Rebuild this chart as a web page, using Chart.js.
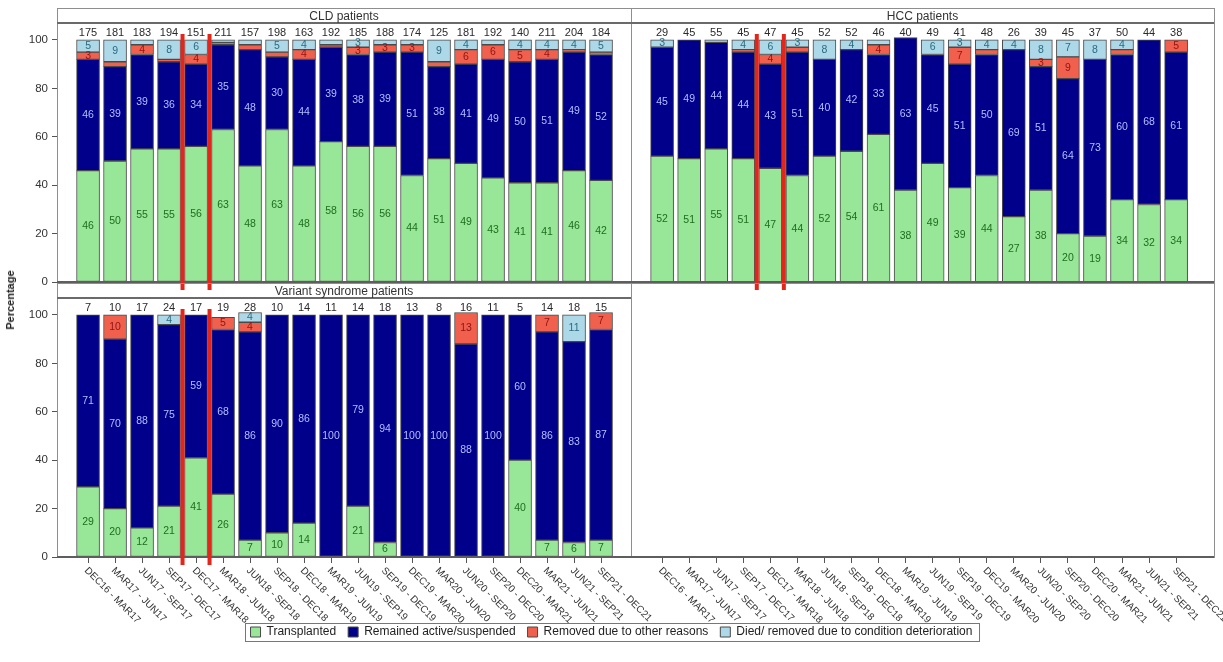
<!DOCTYPE html>
<html>
<head>
<meta charset="utf-8">
<script src="https://cdn.jsdelivr.net/npm/chart.js@4.4.1/dist/chart.umd.min.js"></script>
<style>
  html, body { margin: 0; padding: 0; background: #ffffff; }
  #wrap { position: relative; width: 1223px; height: 662px; overflow: hidden; }
  #wrap canvas { position: absolute; left: 0; top: 0; }
  #ytitle {
    position: absolute; left: 10px; top: 300px;
    transform: translate(-50%, -50%) rotate(-90deg);
    font: bold 11px "Liberation Sans", Arial, sans-serif; color: #222; white-space: nowrap;
  }
</style>
</head>
<body>
<div id="wrap">
  <canvas id="cld" width="1223" height="662"></canvas>
  <canvas id="hcc" width="1223" height="662"></canvas>
  <canvas id="vsp" width="1223" height="662"></canvas>
  <canvas id="blank" width="1223" height="662"></canvas>
  <canvas id="legend" width="1223" height="662"></canvas>
  <div id="ytitle">Percentage</div>
</div>
<script>
// Quarterly periods on the x axis
const categories = [
  'DEC16 - MAR17', 'MAR17 - JUN17', 'JUN17 - SEP17', 'SEP17 - DEC17', 'DEC17 - MAR18',
  'MAR18 - JUN18', 'JUN18 - SEP18', 'SEP18 - DEC18', 'DEC18 - MAR19', 'MAR19 - JUN19',
  'JUN19 - SEP19', 'SEP19 - DEC19', 'DEC19 - MAR20', 'MAR20 - JUN20', 'JUN20 - SEP20',
  'SEP20 - DEC20', 'DEC20 - MAR21', 'MAR21 - JUN21', 'JUN21 - SEP21', 'SEP21 - DEC21'
];
const outcomeNames = [
  'Transplanted', 'Remained active/suspended', 'Removed due to other reasons',
  'Died/ removed due to condition deterioration'
];
const yTickValues = [0, 20, 40, 60, 80, 100];
// boundaries between periods marked with red lines
const periodBreaks = [3.5, 4.5];

// CLD patients (% of registrations in each period)
const cldTotals       = [175, 181, 183, 194, 151, 211, 157, 198, 163, 192, 185, 188, 174, 125, 181, 192, 140, 211, 204, 184];
const cldTransplanted = [46, 50, 55, 55, 56, 63, 48, 63, 48, 58, 56, 56, 44, 51, 49, 43, 41, 41, 46, 42];
const cldActive       = [46, 39, 39, 36, 34, 35, 48, 30, 44, 39, 38, 39, 51, 38, 41, 49, 50, 51, 49, 52];
const cldRemoved      = [3, 2, 4, 1, 4, 1, 2, 2, 4, 1, 3, 3, 3, 2, 6, 6, 5, 4, 1, 1];
const cldDied         = [5, 9, 2, 8, 6, 1, 2, 5, 4, 2, 3, 2, 2, 9, 4, 2, 4, 4, 4, 5];

// HCC patients
const hccTotals       = [29, 45, 55, 45, 47, 45, 52, 52, 46, 40, 49, 41, 48, 26, 39, 45, 37, 50, 44, 38];
const hccTransplanted = [52, 51, 55, 51, 47, 44, 52, 54, 61, 38, 49, 39, 44, 27, 38, 20, 19, 34, 32, 34];
const hccActive       = [45, 49, 44, 44, 43, 51, 40, 42, 33, 63, 45, 51, 50, 69, 51, 64, 73, 60, 68, 61];
const hccRemoved      = [0, 0, 0, 1, 4, 2, 0, 0, 4, 0, 0, 7, 2, 0, 3, 9, 0, 2, 0, 5];
const hccDied         = [3, 0, 1, 4, 6, 3, 8, 4, 2, 0, 6, 3, 4, 4, 8, 7, 8, 4, 0, 0];

// Variant syndrome patients
const vspTotals       = [7, 10, 17, 24, 17, 19, 28, 10, 14, 11, 14, 18, 13, 8, 16, 11, 5, 14, 18, 15];
const vspTransplanted = [29, 20, 12, 21, 41, 26, 7, 10, 14, 0, 21, 6, 0, 0, 0, 0, 40, 7, 6, 7];
const vspActive       = [71, 70, 88, 75, 59, 68, 86, 90, 86, 100, 79, 94, 100, 100, 88, 100, 60, 86, 83, 87];
const vspRemoved      = [0, 10, 0, 0, 0, 5, 4, 0, 0, 0, 0, 0, 0, 0, 13, 0, 0, 7, 0, 7];
const vspDied         = [0, 0, 0, 4, 0, 0, 4, 0, 0, 0, 0, 0, 0, 0, 0, 0, 0, 0, 11, 0];

const FONT = '"Liberation Sans", Arial, sans-serif';
const FILLS = ['#98e698', '#00008b', '#f0604c', '#acd8e8'];
const INKS  = ['#1f6e1f', '#b4bcff', '#8e1414', '#2d6b80'];

Chart.defaults.font.family = FONT;
Chart.defaults.color = '#333';

function datasetsFor(series) {
  return series.map((vals, k) => ({
    label: outcomeNames[k],
    data: vals.map((v, i) => ({ x: i, y: v === 0 ? null : v })),
    backgroundColor: FILLS[k],
    borderColor: '#4a4a4a',
    borderWidth: 1,
    borderSkipped: false,
    barThickness: 23,
    stack: 'outcome'
  }));
}

// value labels, totals, frames, strip headers, period markers and rotated period labels
const panelDecor = {
  id: 'panelDecor',
  afterDatasetsDraw(chart, args, opts) {
    const { ctx } = chart;
    const x = chart.scales.x, y = chart.scales.y;
    ctx.save();
    ctx.textAlign = 'center';
    ctx.textBaseline = 'middle';
    ctx.font = '10.5px ' + FONT;
    chart.data.datasets.forEach((ds, k) => {
      const meta = chart.getDatasetMeta(k);
      meta.data.forEach((bar, i) => {
        const v = ds.data[i].y;
        if (v == null || v < 3) return;
        ctx.fillStyle = INKS[k];
        ctx.fillText(String(v), bar.x, (bar.y + bar.base) / 2);
      });
    });
    if (opts.totals) {
      ctx.font = '11px ' + FONT;
      ctx.fillStyle = '#2a2a2a';
      opts.totals.forEach((n, i) => {
        ctx.fillText(String(n), x.getPixelForValue(i), y.getPixelForValue(103));
      });
    }
    ctx.restore();
  },
  afterDraw(chart, args, opts) {
    const { ctx, chartArea: a } = chart;
    const x = chart.scales.x, y = chart.scales.y;
    const top = opts.frameTop;
    ctx.save();
    // panel frame
    ctx.strokeStyle = '#8e8e8e';
    ctx.lineWidth = 1;
    ctx.strokeRect(a.left + 0.5, top + 0.5, a.right - a.left, a.bottom - top);
    if (opts.title) {
      ctx.strokeStyle = '#6a6a6a';
      ctx.lineWidth = 2;
      ctx.beginPath();
      ctx.moveTo(a.left, a.top); ctx.lineTo(a.right, a.top);
      ctx.stroke();
      ctx.fillStyle = '#333';
      ctx.font = '12px ' + FONT;
      ctx.textAlign = 'center';
      ctx.textBaseline = 'middle';
      ctx.fillText(opts.title, (a.left + a.right) / 2, (top + a.top) / 2 + 1);
    }
    // baseline at 0 %
    ctx.strokeStyle = '#5e5e5e';
    ctx.lineWidth = 2;
    ctx.beginPath();
    ctx.moveTo(a.left, a.bottom); ctx.lineTo(a.right, a.bottom);
    ctx.stroke();
    // period markers
    (opts.breaks || []).forEach(b => {
      const px = x.getPixelForValue(b);
      ctx.strokeStyle = '#e2261c';
      ctx.lineWidth = 4;
      ctx.beginPath();
      ctx.moveTo(px, y.getPixelForValue(102.5));
      ctx.lineTo(px, a.bottom + 8);
      ctx.stroke();
    });
    // rotated period labels under the bottom row
    if (opts.periodLabels) {
      ctx.fillStyle = '#333';
      ctx.font = '10px ' + FONT;
      ctx.textAlign = 'left';
      ctx.textBaseline = 'middle';
      categories.forEach((c, i) => {
        const px = x.getPixelForValue(i);
        ctx.save();
        ctx.translate(px - 2, a.bottom + 12);
        ctx.rotate(Math.PI / 4);
        ctx.fillText(c, 0, 0);
        ctx.restore();
      });
    }
    ctx.restore();
  }
};

function panel(canvasId, cfg) {
  const xScale = {
    type: 'linear',
    min: cfg.xMin, max: cfg.xMax,
    stacked: true,
    offset: false,
    display: cfg.showTicksX,
    afterBuildTicks: s => { s.ticks = categories.map((c, i) => ({ value: i })); },
    afterFit: s => { s.height = cfg.showTicksX ? 6 : 0; },
    border: { display: false },
    grid: { offset: false, drawOnChartArea: false, drawTicks: true, tickLength: 6, color: '#555' },
    ticks: { display: false }
  };
  const yScale = {
    type: 'linear',
    min: 0, max: 107,
    stacked: true,
    display: cfg.showY,
    afterBuildTicks: s => { s.ticks = yTickValues.map(v => ({ value: v })); },
    afterFit: s => { s.width = cfg.showY ? 57 : 0; },
    border: { display: false },
    grid: { drawOnChartArea: false, drawTicks: true, tickLength: 5, color: '#555' },
    ticks: { font: { size: 11.5 }, color: '#333', padding: 4 }
  };
  return new Chart(document.getElementById(canvasId), {
    type: 'bar',
    data: { datasets: cfg.series ? datasetsFor(cfg.series) : [] },
    options: {
      responsive: false,
      animation: false,
      devicePixelRatio: 1,
      layout: { padding: cfg.padding },
      scales: { x: xScale, y: yScale },
      plugins: {
        legend: { display: false },
        tooltip: { enabled: false },
        panelDecor: {
          title: cfg.title, frameTop: cfg.frameTop, totals: cfg.totals,
          breaks: cfg.breaks, periodLabels: cfg.periodLabels
        }
      }
    },
    plugins: [panelDecor]
  });
}

// top-left: CLD
panel('cld', {
  series: [cldTransplanted, cldActive, cldRemoved, cldDied], totals: cldTotals,
  title: 'CLD patients', frameTop: 8, breaks: periodBreaks,
  xMin: -1.15, xMax: 20.11, showTicksX: false, showY: true,
  padding: { left: 0, top: 23, right: 1223 - 631, bottom: 662 - 282 }
});
// top-right: HCC
panel('hcc', {
  series: [hccTransplanted, hccActive, hccRemoved, hccDied], totals: hccTotals,
  title: 'HCC patients', frameTop: 8, breaks: periodBreaks,
  xMin: -1.15, xMax: 20.4, showTicksX: false, showY: false,
  padding: { left: 631, top: 23, right: 1223 - 1214, bottom: 662 - 282 }
});
// bottom-left: variant syndrome
panel('vsp', {
  series: [vspTransplanted, vspActive, vspRemoved, vspDied], totals: vspTotals,
  title: 'Variant syndrome patients', frameTop: 283, breaks: periodBreaks, periodLabels: true,
  xMin: -1.15, xMax: 20.11, showTicksX: true, showY: true,
  padding: { left: 0, top: 298, right: 1223 - 631, bottom: 662 - 557 - 6 }
});
// bottom-right: empty cell carrying the right column's period axis
panel('blank', {
  series: null, totals: null, title: null, frameTop: 283, breaks: [], periodLabels: true,
  xMin: -1.15, xMax: 20.4, showTicksX: true, showY: false,
  padding: { left: 631, top: 298, right: 1223 - 1214, bottom: 662 - 557 - 6 }
});

// shared legend
const legendFrame = {
  id: 'legendFrame',
  afterDraw(chart) {
    const boxes = chart.legend && chart.legend.legendHitBoxes;
    if (!boxes || !boxes.length) return;
    const left = Math.min(...boxes.map(b => b.left)) - 6;
    const right = Math.max(...boxes.map(b => b.left + b.width)) + 6;
    const top = Math.min(...boxes.map(b => b.top)) - 3;
    const bottom = Math.max(...boxes.map(b => b.top + b.height)) + 3;
    const ctx = chart.ctx;
    ctx.save();
    ctx.strokeStyle = '#777';
    ctx.lineWidth = 1;
    ctx.strokeRect(Math.round(left) + 0.5, Math.round(top) + 0.5, Math.round(right - left), Math.round(bottom - top));
    ctx.restore();
  }
};
new Chart(document.getElementById('legend'), {
  type: 'bar',
  data: { labels: [], datasets: datasetsFor([[], [], [], []]) },
  options: {
    responsive: false,
    animation: false,
    devicePixelRatio: 1,
    layout: { padding: { top: 580, bottom: 14 } },
    scales: { x: { display: false }, y: { display: false } },
    plugins: {
      tooltip: { enabled: false },
      legend: {
        display: true,
        position: 'bottom',
        labels: { boxWidth: 10, boxHeight: 10, padding: 12, color: '#222', font: { size: 12 } }
      }
    }
  },
  plugins: [legendFrame]
});
</script>
</body>
</html>
